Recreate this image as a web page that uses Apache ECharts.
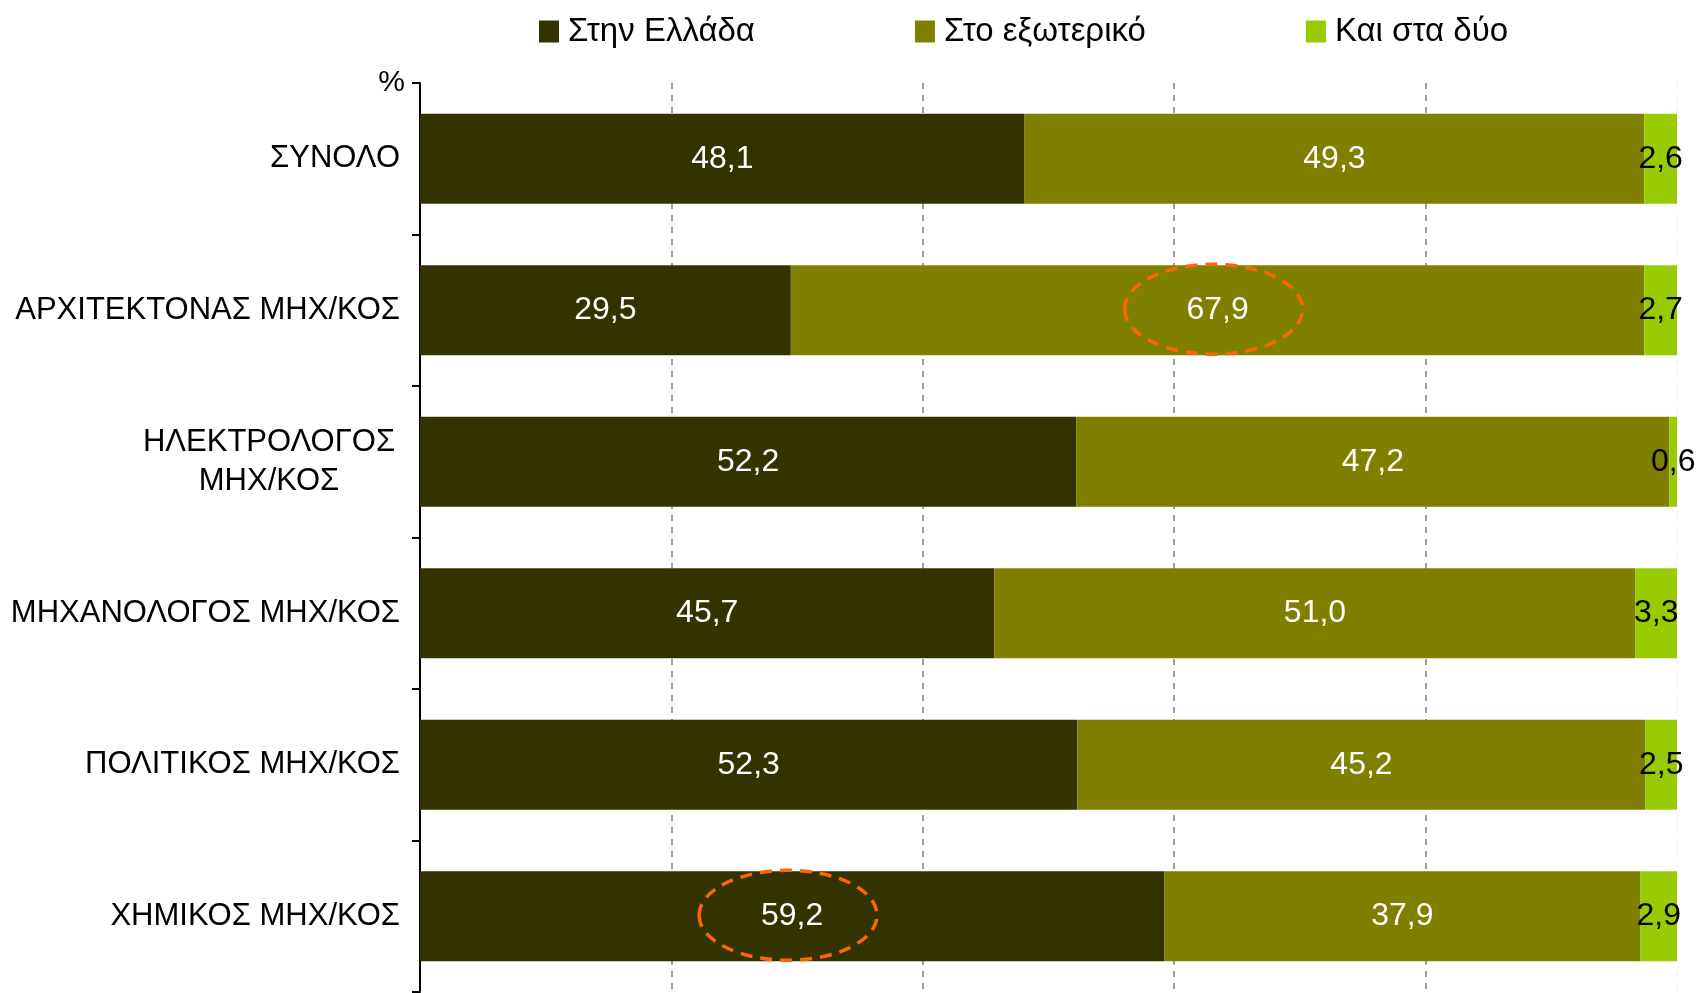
<!DOCTYPE html>
<html>
<head>
<meta charset="utf-8">
<script src="https://cdn.jsdelivr.net/npm/echarts@6/dist/echarts.min.js"></script>
<style>html,body{margin:0;padding:0;background:#fff;}#c{width:1705px;height:993px;}</style>
</head>
<body>
<div id="c"></div>
<script>
const categories = ['ΣΥΝΟΛΟ', 'ΑΡΧΙΤΕΚΤΟΝΑΣ ΜΗΧ/ΚΟΣ', 'ΗΛΕΚΤΡΟΛΟΓΟΣ\nΜΗΧ/ΚΟΣ', 'ΜΗΧΑΝΟΛΟΓΟΣ ΜΗΧ/ΚΟΣ', 'ΠΟΛΙΤΙΚΟΣ ΜΗΧ/ΚΟΣ', 'ΧΗΜΙΚΟΣ ΜΗΧ/ΚΟΣ'];
const seriesNames = ['Στην Ελλάδα', 'Στο εξωτερικό', 'Και στα δύο'];
const inGreece = [48.1, 29.5, 52.2, 45.7, 52.3, 59.2];
const abroad = [49.3, 67.9, 47.2, 51.0, 45.2, 37.9];
const both = [2.6, 2.7, 0.6, 3.3, 2.5, 2.9];
// highlighted (circled) values: [series index, category index]
const highlights = [[1, 1], [0, 5]];

const allSeries = [inGreece, abroad, both];
const colors = ['#333300', '#808000', '#99CC00'];
const labelColors = ['#ffffff', '#ffffff', '#000000'];
const FONT = '"Liberation Sans", Arial, sans-serif';

function fmt(v) { return v.toFixed(1).replace('.', ','); }

const barSeries = allSeries.map((vals, i) => ({
  name: seriesNames[i],
  type: 'bar',
  stack: 'total',
  barWidth: 90,
  data: vals,
  itemStyle: { color: colors[i] },
  label: {
    show: true,
    position: 'inside',
    color: labelColors[i],
    fontFamily: FONT,
    fontSize: 32,
    formatter: p => fmt(p.value)
  },
  emphasis: { disabled: true },
  z: 2
}));

// ellipse annotation centres from data
const ellipseData = highlights.map(([s, c]) => {
  let start = 0;
  for (let k = 0; k < s; k++) start += allSeries[k][c];
  return [start + allSeries[s][c] / 2, c];
});

const ellipseSeries = {
  type: 'custom',
  data: ellipseData,
  z: 5,
  silent: true,
  encode: { x: 0, y: 1 },
  renderItem: function (params, api) {
    const pt = api.coord([api.value(0), api.value(1)]);
    const cx = pt[0] - 4, cy = pt[1] - 1;
    const rx = 89;
    const ry = 45;
    const d = 'M ' + (cx - rx) + ' ' + cy +
      ' A ' + rx + ' ' + ry + ' 0 1 0 ' + (cx + rx) + ' ' + cy +
      ' A ' + rx + ' ' + ry + ' 0 1 0 ' + (cx - rx) + ' ' + cy + ' Z';
    return {
      type: 'path',
      shape: { pathData: d },
      style: { fill: null, stroke: '#FF6600', lineWidth: 3.5, lineDash: [12, 8] }
    };
  }
};

const chart = echarts.init(document.getElementById('c'), null, { renderer: 'canvas' });
chart.setOption({
  animation: false,
  backgroundColor: '#ffffff',
  textStyle: { fontFamily: FONT },
  legend: {
    data: seriesNames,
    left: 534,
    top: 10,
    itemWidth: 20,
    itemHeight: 22,
    itemGap: 160,
    icon: 'rect',
    textStyle: { fontFamily: FONT, fontSize: 33, color: '#000', padding: [0, 0, 0, 4] },
    selectedMode: false
  },
  grid: { left: 420, right: 28, top: 83, bottom: 1, containLabel: false },
  xAxis: {
    type: 'value',
    min: 0,
    max: 100,
    interval: 20,
    axisLabel: { show: false },
    axisLine: { show: false },
    axisTick: { show: false },
    splitLine: {
      show: true,
      lineStyle: { color: ['#808080', '#808080', '#808080', '#808080', '#808080', '#f4f4f4'], type: [6, 6], width: 1.5 }
    }
  },
  yAxis: {
    type: 'category',
    inverse: true,
    data: categories,
    name: '%',
    nameLocation: 'start',
    nameGap: 0,
    nameTextStyle: { fontFamily: FONT, fontSize: 30, color: '#000', align: 'right', verticalAlign: 'middle', padding: [0, 15, 0, 0] },
    axisLine: { show: true, lineStyle: { color: '#000', width: 2 } },
    axisTick: { show: true, length: 8, lineStyle: { color: '#000', width: 2 } },
    axisLabel: {
      fontFamily: FONT,
      fontSize: 31,
      color: '#000',
      margin: 20,
      lineHeight: 39,
      formatter: v => v.indexOf('\n') >= 0 ? v.split('\n').map(s => '{c|' + s + '}').join('\n') : v,
      rich: { c: { width: 262, align: 'center', fontFamily: FONT, fontSize: 31, lineHeight: 39 } }
    },
    splitLine: { show: false }
  },
  series: barSeries.concat([ellipseSeries])
});
</script>
</body>
</html>
